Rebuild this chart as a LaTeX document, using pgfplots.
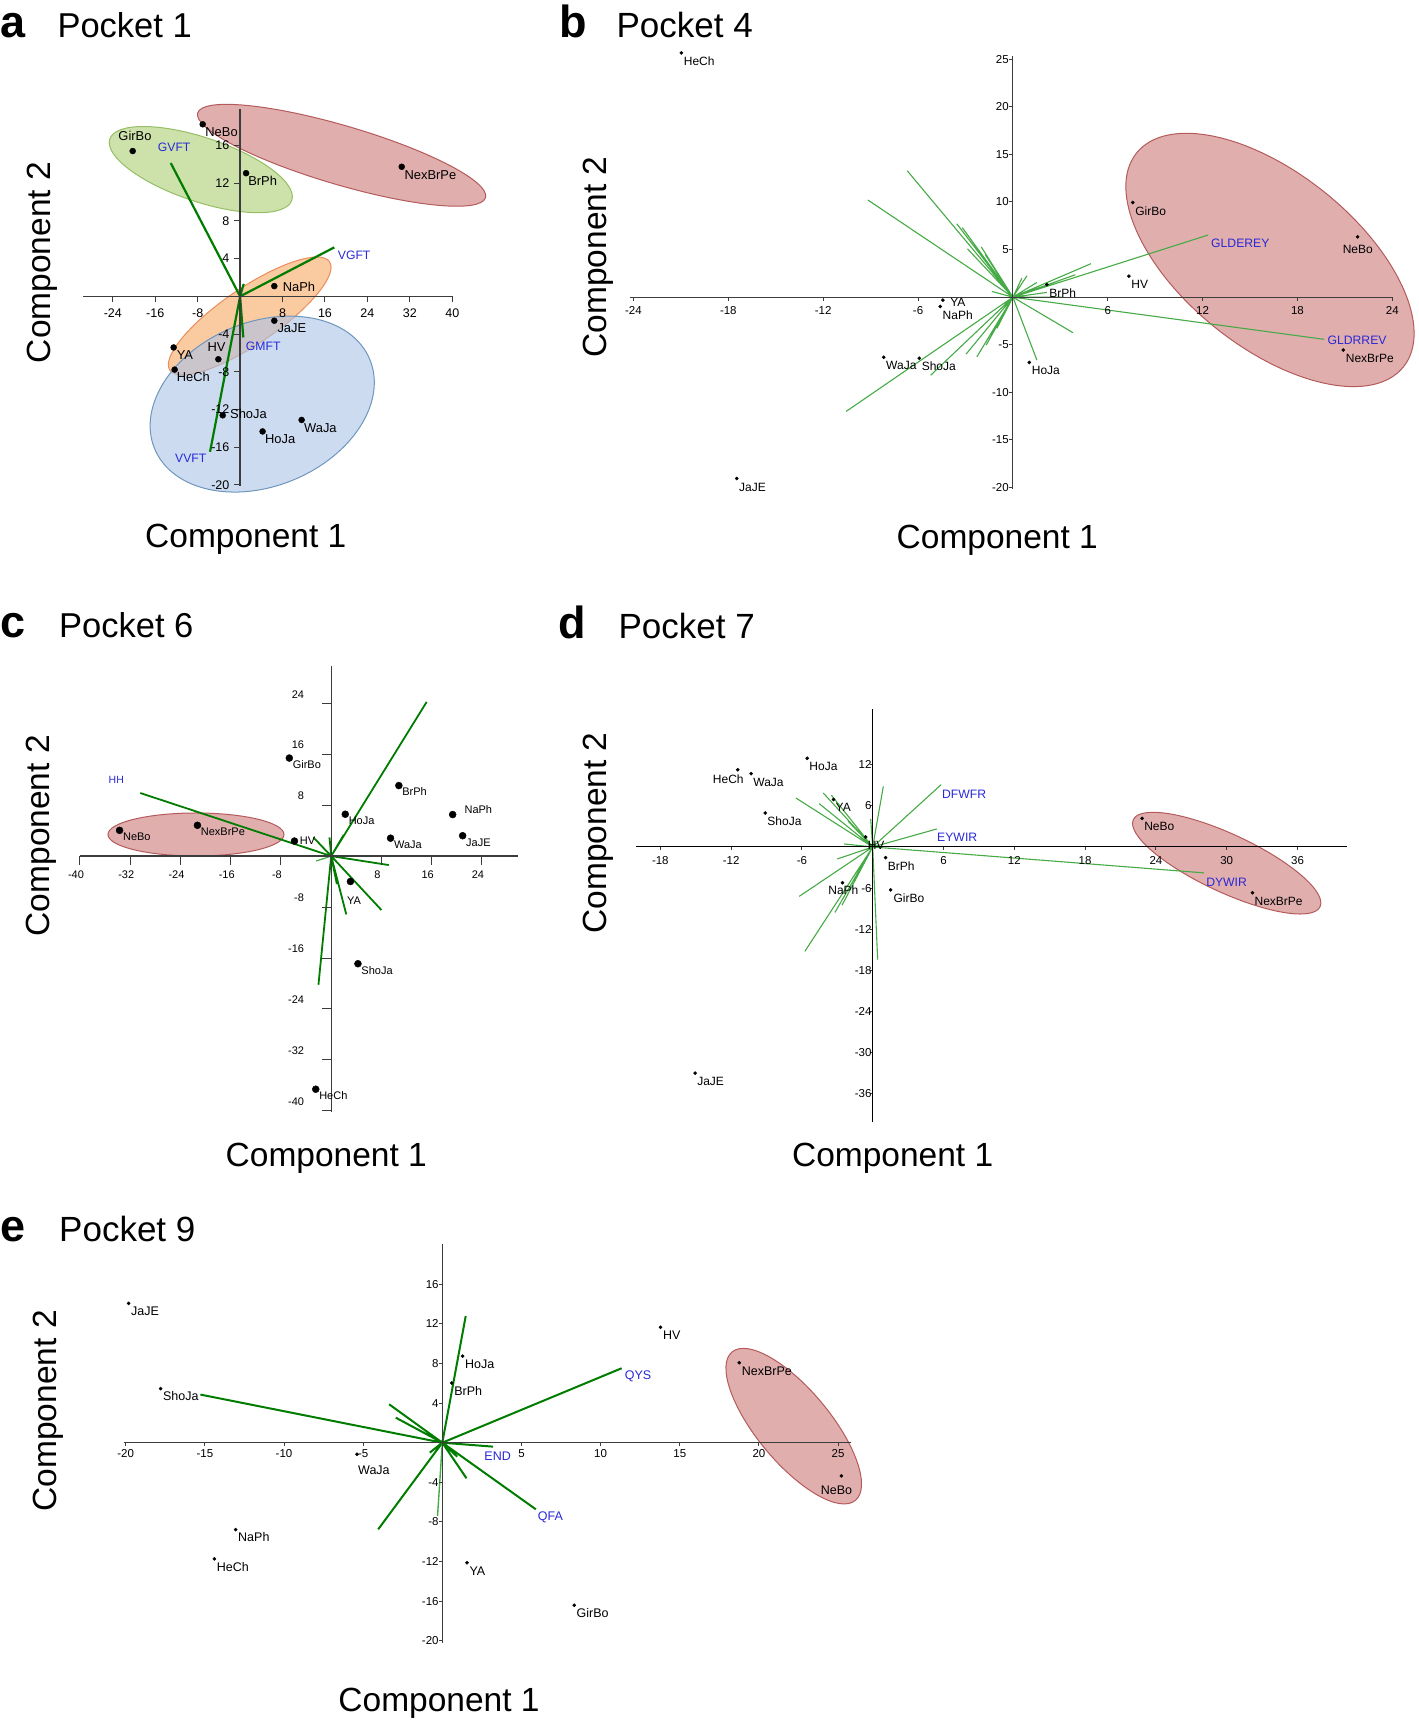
\documentclass[border=0pt]{standalone}
\usepackage{fontspec}
\setmainfont{Liberation Sans}
\usepackage{pgfplots}
\pgfplotsset{compat=1.18}
\usetikzlibrary{shapes.geometric}

\definecolor{dkgreen}{RGB}{0,125,0}
\definecolor{ltgreen}{RGB}{70,170,70}
\definecolor{lblue}{RGB}{40,40,215}
\definecolor{redfill}{RGB}{212,140,140}
\definecolor{reddraw}{RGB}{180,90,90}
\definecolor{grnfill}{RGB}{205,225,170}
\definecolor{grndraw}{RGB}{150,190,100}
\definecolor{orgfill}{RGB}{250,202,160}
\definecolor{orgdraw}{RGB}{235,140,90}
\definecolor{blufill}{RGB}{170,195,230}
\definecolor{bludraw}{RGB}{110,150,190}
\definecolor{axgray}{RGB}{60,60,60}

\newcommand\fs[1]{\fontsize{#1}{#1}\selectfont}

\pgfplotsset{
  biplot/.style={
    anchor=origin,
    axis lines=middle,
    every inner x axis line/.append style={-},
    every inner y axis line/.append style={-},
    axis line style={-, line width=1.3pt, axgray},
    axis on top,
    clip=false,
    tick align=outside,
    tick style={axgray, line width=1pt},
    hide obscured x ticks=false,
    hide obscured y ticks=false,
    /pgf/number format/assume math mode=true,
    ticklabel style={inner sep=0pt, text=black},
  },
  pts/.style={
    only marks, mark=*, black,
    point meta=explicit symbolic,
    nodes near coords,
    visualization depends on={\thisrow{dx} \as \dx},
    visualization depends on={\thisrow{dy} \as \dy},
    nodes near coords style={anchor=base west, inner sep=0pt, xshift=\dx pt, yshift=\dy pt, text=black},
  },
  loads/.style={unbounded coords=jump},
}
\tikzset{ell/.style={ellipse, inner sep=0pt, line width=1pt},
  blab/.style={anchor=west, inner sep=0pt, text=lblue}}

\begin{document}
\begin{tikzpicture}
\useasboundingbox (0,0) rectangle (1418pt,1720pt);

% ---------------- titles and axis titles ----------------
\node[anchor=base west, inner sep=0pt, font=\fs{45}\bfseries] at (0pt,1682.5pt) {a};
\node[anchor=base west, inner sep=0pt, font=\fs{34.5}] at (57.3pt,1682.5pt) {Pocket 1};
\node[anchor=base west, inner sep=0pt, font=\fs{45}\bfseries] at (559pt,1682.5pt) {b};
\node[anchor=base west, inner sep=0pt, font=\fs{35}] at (616.4pt,1682.5pt) {Pocket 4};
\node[anchor=base west, inner sep=0pt, font=\fs{45}\bfseries] at (0pt,1082.5pt) {c};
\node[anchor=base west, inner sep=0pt, font=\fs{34.5}] at (59pt,1082.5pt) {Pocket 6};
\node[anchor=base west, inner sep=0pt, font=\fs{45}\bfseries] at (558.6pt,1081.4pt) {d};
\node[anchor=base west, inner sep=0pt, font=\fs{35}] at (618.4pt,1081.4pt) {Pocket 7};
\node[anchor=base west, inner sep=0pt, font=\fs{45}\bfseries] at (0pt,478.3pt) {e};
\node[anchor=base west, inner sep=0pt, font=\fs{35}] at (59pt,478.3pt) {Pocket 9};

\node[anchor=base, inner sep=0pt, font=\fs{33.5}] at (245.8pt,1172pt) {Component 1};
\node[anchor=base, inner sep=0pt, font=\fs{33.5}, rotate=90] at (50pt,1457.5pt) {Component 2};
\node[anchor=base, inner sep=0pt, font=\fs{33.5}] at (997.3pt,1171.8pt) {Component 1};
\node[anchor=base, inner sep=0pt, font=\fs{33.5}, rotate=90] at (606.5pt,1463pt) {Component 2};
\node[anchor=base, inner sep=0pt, font=\fs{33.5}] at (326.3pt,553pt) {Component 1};
\node[anchor=base, inner sep=0pt, font=\fs{33.5}, rotate=90] at (49.9pt,884.3pt) {Component 2};
\node[anchor=base, inner sep=0pt, font=\fs{33.5}] at (892.7pt,553pt) {Component 1};
\node[anchor=base, inner sep=0pt, font=\fs{33.5}, rotate=90] at (606pt,887pt) {Component 2};
\node[anchor=base, inner sep=0pt, font=\fs{33.5}] at (439pt,8.3pt) {Component 1};
\node[anchor=base, inner sep=0pt, font=\fs{33.5}, rotate=90] at (56pt,309.2pt) {Component 2};

% ---------------- Panel a: Pocket 1 ----------------
\begin{axis}[biplot, at={(240.1pt,1423.6pt)}, x=5.304pt, y=9.425pt,
  xmin=-29.6, xmax=40.2, ymin=-20.1, ymax=19.9,
  xtick={-24,-16,-8,8,16,24,32,40}, ytick={-20,-16,-12,-8,-4,4,8,12,16},
  major tick length=6pt, ticklabel style={font=\fs{12.5}},
  xticklabel style={yshift=-6.5pt}, yticklabel style={xshift=-4.5pt},
  axis line style={line width=1.5pt}]
\node[ell, fill=grnfill, draw=grndraw, minimum width=192pt, minimum height=64pt, rotate=-18.6] at (axis cs:-7.41,13.45) {};
\node[ell, fill=redfill, fill opacity=0.7, draw=reddraw, minimum width=300pt, minimum height=59pt, rotate=-16.4] at (axis cs:19.14,14.97) {};
\node[ell, fill=orgfill, draw=orgdraw, minimum width=193pt, minimum height=56pt, rotate=34.2] at (axis cs:1.81,-2.08) {};
\node[ell, fill=blufill, fill opacity=0.6, draw=bludraw, minimum width=233pt, minimum height=164pt, rotate=22.6] at (axis cs:4.17,-11.43) {};
\addplot[lblue, line width=1pt] coordinates {(20.5,0) (30,0)};
\addplot[loads, dkgreen, line width=2.2pt] table {
x y
0 0
-13.08 14.15
nan nan
0 0
17.76 5.2
nan nan
0 0
0.6 -4.36
nan nan
0 0
-5.67 -16.49
nan nan
0 0
0.68 1.33
};
\addplot[pts, mark size=3pt, nodes near coords style={font=\fs{12.9}}] table[meta=label] {
x y dx dy label
-7.05 18.26 2.5 -12 NeBo
-20.25 15.42 -14.4 11 GirBo
1.13 13.07 2 -12.5 BrPh
30.47 13.75 2.7 -12.5 NexBrPe
6.45 1.09 8.3 -5.7 NaPh
6.45 -2.58 3 -12.2 JaJE
-12.53 -5.42 3 -12.5 YA
-4.10 -6.67 -11 7.5 HV
-12.34 -7.77 2 -11.8 HeCh
-3.28 -12.62 7.3 -3.2 ShoJa
11.60 -13.11 2.3 -12.1 WaJa
4.24 -14.33 2.3 -12.2 HoJa
};
\node[blab, font=\fs{12.2}] at (axis cs:-15.54,15.8) {GVFT};
\node[blab, font=\fs{12.2}] at (axis cs:18.4,4.35) {VGFT};
\node[blab, font=\fs{12.2}] at (axis cs:1.06,-5.3) {GMFT};
\node[blab, font=\fs{12.2}] at (axis cs:-12.27,-17.17) {VVFT};
\end{axis}

% ---------------- Panel b: Pocket 4 ----------------
\begin{axis}[biplot, at={(1012.9pt,1422.8pt)}, x=15.81pt, y=9.52pt,
  xmin=-24.2, xmax=24, ymin=-20.1, ymax=25.3,
  xtick={-24,-18,-12,-6,6,12,18,24}, ytick={-20,-15,-10,-5,5,10,15,20,25},
  major tick length=4pt, ticklabel style={font=\fs{11.5}},
  xticklabel style={yshift=-5.4pt},
  axis line style={line width=1.1pt}]
\node[ell, fill=redfill, fill opacity=0.7, draw=reddraw, minimum width=342pt, minimum height=174pt, rotate=-38.7] at (axis cs:16.26,3.91) {};
\addplot[loads, ltgreen, line width=1.1pt] table {
x y
0 0
12.35 6.53
nan nan
0 0
19.69 -4.43
nan nan
0 0
-6.68 13.27
nan nan
0 0
-9.17 10.2
nan nan
0 0
-3.55 7.71
nan nan
0 0
-3.2 7.3
nan nan
0 0
-2.87 5.07
nan nan
0 0
-2.0 5.28
nan nan
0 0
-1.75 4.47
nan nan
0 0
-1.33 0.6
nan nan
0 0
4.94 3.52
nan nan
0 0
3.95 2.36
nan nan
0 0
1.52 1.55
nan nan
0 0
0.89 2.25
nan nan
0 0
0.57 2.0
nan nan
0 0
3.1 0
nan nan
0 0
2.15 0.5
nan nan
0 0
3.8 -3.73
nan nan
0 0
1.52 -6.62
nan nan
0 0
-10.55 -12.0
nan nan
0 0
-5.2 -8.2
nan nan
0 0
-2.96 -5.98
nan nan
0 0
-2.28 -6.27
nan nan
0 0
-1.69 -5.03
nan nan
0 0
-1.01 -3.27
};
\addplot[pts, mark size=1.6pt, nodes near coords style={font=\fs{12}}] table[meta=label] {
x y dx dy label
-20.97 25.66 2.3 -12.5 HeCh
7.58 9.94 2.3 -12.5 GirBo
21.80 6.34 -15 -16.7 NeBo
7.34 2.21 2.3 -12.5 HV
2.15 1.31 2.3 -12.5 BrPh
-4.43 -0.30 7.3 -6 YA
-4.60 -0.98 2.3 -12.5 NaPh
-8.17 -6.30 2.3 -12.5 WaJa
-5.92 -6.41 2.3 -12.5 ShoJa
1.04 -6.86 2.3 -12.5 HoJa
20.90 -5.55 2.3 -12.5 NexBrPe
-17.47 -19.05 2.3 -12.5 JaJE
};
\node[blab, font=\fs{12.2}] at (axis cs:12.53,5.71) {GLDEREY};
\node[blab, font=\fs{12.2}] at (axis cs:19.89,-4.55) {GLDRREV};
\end{axis}

% ---------------- Panel c: Pocket 6 ----------------
\begin{axis}[biplot, at={(331.2pt,863.9pt)}, x=6.28pt, y=6.37pt,
  xmin=-40, xmax=29.7, ymin=-40.1, ymax=29.9,
  xtick={-40,-32,-24,-16,-8,8,16,24}, ytick={-40,-32,-24,-16,-8,8,16,24},
  major tick length=9pt, ticklabel style={font=\fs{11}},
  xticklabel style={xshift=-4pt, yshift=-5.4pt}, yticklabel style={yshift=9pt, xshift=-18pt},
  axis line style={line width=1.3pt}]
\node[ell, fill=redfill, fill opacity=0.7, draw=reddraw, minimum width=176pt, minimum height=43pt] at (axis cs:-21.53,3.39) {};
\addplot[loads, dkgreen, line width=1.8pt] table {
x y
0 0
-30.4 9.9
nan nan
0 0
15.2 24.2
nan nan
0 0
-2.03 -20.2
nan nan
0 0
8.0 -8.47
nan nan
0 0
9.17 -1.41
nan nan
0 0
2.4 -9.15
nan nan
0 0
-2.83 2.93
nan nan
0 0
-0.27 2.93
nan nan
0 0
0.9 -4.4
nan nan
0 0
1.97 3.3
};
\addplot[ltgreen, line width=1.2pt] coordinates {(0,0) (-2.4,-0.78)};
\addplot[pts, mark size=3.5pt, nodes near coords style={font=\fs{11}}] table[meta=label] {
x y dx dy label
-6.67 15.39 3.3 -10.3 GirBo
10.77 11.07 3.3 -10.3 BrPh
19.34 6.52 11.7 1 NaPh
2.24 6.57 3.3 -10.3 HoJa
20.93 3.20 3.3 -10.3 JaJE
9.45 2.81 3.3 -10.3 WaJa
-5.85 2.36 5.2 -3.2 HV
-33.70 4.04 3.3 -10.3 NeBo
-21.30 4.83 3.3 -10.3 NexBrPe
3.06 -3.99 -3.4 -23.2 YA
4.26 -16.90 3.3 -10.3 ShoJa
-2.46 -36.60 3.3 -10.3 HeCh
};
\node[blab, font=\fs{10.5}] at (axis cs:-35.46,11.9) {HH};
\end{axis}

% ---------------- Panel d: Pocket 7 ----------------
\begin{axis}[biplot, at={(872.7pt,873pt)}, x=11.8pt, y=6.85pt,
  xmin=-20.1, xmax=40.2, ymin=-40.2, ymax=20.1,
  xtick={-18,-12,-6,6,12,18,24,30,36}, ytick={-36,-30,-24,-18,-12,-6,6,12},
  major tick length=3pt, ticklabel style={font=\fs{11.5}},
  xticklabel style={yshift=-6pt}, yticklabel style={xshift=2pt},
  axis line style={line width=1pt, black}]
\node[ell, fill=redfill, fill opacity=0.7, draw=reddraw, minimum width=206pt, minimum height=58pt, rotate=-25] at (axis cs:30.0,-2.36) {};
\addplot[lblue, line width=1pt] coordinates {(5.4,0) (12.2,0)};
\addplot[loads, ltgreen, line width=1.1pt] table {
x y
0 0
28.08 -3.78
nan nan
0 0
5.8 9.1
nan nan
0 0
5.43 2.63
nan nan
0 0
0.9 8.85
nan nan
0 0
-6.51 7.15
nan nan
0 0
-4.19 7.88
nan nan
0 0
-4.53 6.32
nan nan
0 0
-3.5 7.56
nan nan
0 0
-2.07 3.74
nan nan
0 0
-0.17 4.09
nan nan
0 0
-2.41 0.44
nan nan
0 0
-3.0 -1.75
nan nan
0 0
-6.23 -7.21
nan nan
0 0
-3.2 -9.55
nan nan
0 0
-2.6 -8.5
nan nan
0 0
-5.75 -15.24
nan nan
0 0
0.42 -16.45
};
\addplot[pts, mark size=1.6pt, nodes near coords style={font=\fs{12}}] table[meta=label] {
x y dx dy label
-5.55 12.94 2 -12.5 HoJa
-11.44 11.27 -25 -13.6 HeCh
-10.30 10.70 2 -12.5 WaJa
-3.32 6.94 2 -12.5 YA
-9.11 4.96 2 -12.5 ShoJa
-0.60 1.46 2 -12.5 HV
1.09 -1.56 2 -12.5 BrPh
-2.56 -5.22 -14.3 -11.7 NaPh
1.52 -6.26 2.7 -12.7 GirBo
22.83 4.17 2 -12.5 NeBo
32.18 -6.68 2 -12.5 NexBrPe
-15.05 -33.02 2 -12.5 JaJE
};
\node[blab, font=\fs{12.2}] at (axis cs:5.87,7.69) {DFWFR};
\node[blab, font=\fs{12.2}] at (axis cs:5.45,1.36) {EYWIR};
\node[blab, font=\fs{12.2}] at (axis cs:28.25,-5.18) {DYWIR};
\end{axis}

% ---------------- Panel e: Pocket 9 ----------------
\begin{axis}[biplot, at={(442.3pt,277.3pt)}, x=15.83pt, y=9.9pt,
  xmin=-20.1, xmax=25.8, ymin=-20.2, ymax=20.1,
  xtick={-20,-15,-10,-5,5,10,15,20,25}, ytick={-20,-16,-12,-8,-4,4,8,12,16},
  major tick length=3.5pt, ticklabel style={font=\fs{11.5}},
  xticklabel style={yshift=-3.2pt},
  axis line style={line width=1.3pt}]
\node[ell, fill=redfill, fill opacity=0.7, draw=reddraw, minimum width=193pt, minimum height=73pt, rotate=-50.25] at (axis cs:22.2,1.67) {};
\addplot[lblue!60!axgray, line width=1.3pt] coordinates {(13.9,0) (25.7,0)};
\addplot[loads, dkgreen, line width=2pt] table {
x y
0 0
-15.28 4.86
nan nan
0 0
11.33 7.52
nan nan
0 0
5.91 -6.73
nan nan
0 0
1.48 12.8
nan nan
0 0
-4.05 -8.75
nan nan
0 0
3.21 -0.4
nan nan
0 0
-3.36 3.88
nan nan
0 0
-2.94 2.53
nan nan
0 0
1.53 -3.6
nan nan
0 0
-0.79 -1.0
nan nan
0 0
0.94 -1.41
};
\addplot[ltgreen, line width=1.4pt] coordinates {(0,0) (-0.3,-7.4)};
\addplot[pts, mark size=1.6pt, nodes near coords style={font=\fs{12.5}}] table[meta=label] {
x y dx dy label
-19.82 14.07 2.3 -12.3 JaJE
-17.80 5.46 2.3 -12.3 ShoJa
1.28 8.74 2.3 -12.3 HoJa
0.60 6.03 2.3 -12.3 BrPh
13.79 11.66 2.3 -12.3 HV
18.76 8.07 2.3 -12.3 NexBrPe
25.21 -3.35 -20.7 -18.3 NeBo
-5.39 -1.17 1 -20.7 WaJa
-13.05 -8.78 2.3 -12.3 NaPh
-14.40 -11.73 2.3 -12.3 HeCh
1.56 -12.13 2.3 -12.3 YA
8.33 -16.42 2.3 -12.3 GirBo
};
\node[blab, font=\fs{12.5}] at (axis cs:11.52,6.74) {QYS};
\node[blab, font=\fs{12.5}] at (axis cs:2.65,-1.34) {END};
\node[blab, font=\fs{12.5}] at (axis cs:6.03,-7.5) {QFA};
\end{axis}
\end{tikzpicture}
\end{document}
